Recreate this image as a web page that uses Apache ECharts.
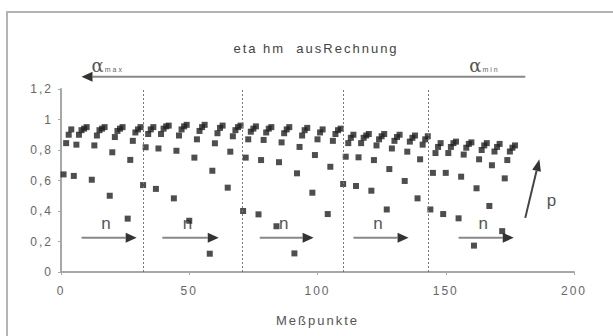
<!DOCTYPE html>
<html>
<head>
<meta charset="utf-8">
<script src="https://cdn.jsdelivr.net/npm/echarts@6/dist/echarts.min.js"></script>
<style>
  html, body { margin: 0; padding: 0; background: #fff; overflow: hidden; }
  #chart { width: 613px; height: 336px; }
  #chart text { letter-spacing: 2px; }
</style>
</head>
<body>
<div id="chart"></div>
<script>
// Axis ticks
const xTicks = [0, 50, 100, 150, 200];
const yTicks = [0, 0.2, 0.4, 0.6, 0.8, 1, 1.2];

// eta_hm per measuring point, one block per alpha setting (alpha_max -> alpha_min)
const alpha1Idx = [1, 2, 3, 4, 5, 6, 7, 8, 9, 10, 12, 13, 14, 15, 16, 17, 19, 20, 21, 22, 23, 24, 26, 27, 28, 29, 30, 31];
const alpha1Eta = [0.64, 0.845, 0.90, 0.935, 0.63, 0.835, 0.90, 0.93, 0.94, 0.95, 0.605, 0.83, 0.895, 0.93, 0.94, 0.95, 0.50, 0.785, 0.885, 0.925, 0.94, 0.95, 0.35, 0.735, 0.86, 0.915, 0.935, 0.95];

const alpha2Idx = [32, 33, 34, 35, 36, 37, 38, 39, 40, 41, 42, 44, 45, 46, 47, 48, 49, 50, 52, 53, 54, 55, 56, 58, 59, 60, 61, 62, 63, 65, 66, 67, 68, 69, 70];
const alpha2Eta = [0.57, 0.818, 0.905, 0.935, 0.95, 0.545, 0.81, 0.905, 0.94, 0.955, 0.96, 0.483, 0.795, 0.895, 0.935, 0.955, 0.965, 0.336, 0.75, 0.87, 0.925, 0.95, 0.965, 0.12, 0.664, 0.844, 0.91, 0.945, 0.96, 0.553, 0.789, 0.89, 0.93, 0.95, 0.96];

const alpha3Idx = [71, 72, 73, 74, 75, 76, 77, 78, 79, 80, 81, 82, 84, 85, 86, 87, 88, 89, 91, 92, 93, 94, 95, 96, 98, 99, 100, 101, 102, 104, 105, 106, 107, 108, 109];
const alpha3Eta = [0.40, 0.75, 0.87, 0.92, 0.94, 0.955, 0.378, 0.734, 0.866, 0.915, 0.94, 0.95, 0.30, 0.72, 0.85, 0.91, 0.935, 0.95, 0.122, 0.647, 0.82, 0.895, 0.93, 0.945, 0.52, 0.767, 0.87, 0.915, 0.935, 0.38, 0.69, 0.86, 0.905, 0.93, 0.94];

const alpha4Idx = [110, 111, 112, 113, 114, 115, 116, 117, 118, 119, 120, 121, 122, 123, 124, 125, 126, 127, 128, 129, 130, 131, 132, 134, 135, 136, 137, 138, 139, 140, 141, 142, 143];
const alpha4Eta = [0.577, 0.756, 0.845, 0.88, 0.90, 0.564, 0.752, 0.845, 0.88, 0.895, 0.905, 0.533, 0.734, 0.83, 0.87, 0.89, 0.905, 0.41, 0.675, 0.81, 0.86, 0.885, 0.90, 0.597, 0.789, 0.855, 0.88, 0.895, 0.483, 0.739, 0.835, 0.87, 0.89];

const alpha5Idx = [144, 145, 146, 147, 148, 149, 150, 151, 152, 153, 154, 155, 156, 157, 158, 159, 160, 161, 162, 163, 164, 165, 166, 167, 168, 169, 170, 171, 172, 173, 174, 175, 176, 177];
const alpha5Eta = [0.41, 0.65, 0.78, 0.82, 0.845, 0.38, 0.65, 0.78, 0.82, 0.845, 0.855, 0.352, 0.625, 0.77, 0.815, 0.84, 0.85, 0.173, 0.549, 0.739, 0.80, 0.83, 0.845, 0.433, 0.70, 0.79, 0.82, 0.84, 0.268, 0.614, 0.734, 0.79, 0.815, 0.83];

// Annotation anchors in data units
const sectionBounds = [32, 70.5, 110, 143];
const nArrowSpans = [[8, 29.5], [39.5, 61.5], [77.5, 98.5], [114, 135.5], [155, 176.5]];
const nArrowLevel = 0.225;
const alphaArrow = { from: 181, to: 8, level: 1.28 };
const pArrow = { from: [181, 0.355], to: [186.5, 0.74] };

const zip = (xs, ys) => xs.map((x, i) => [x, ys[i]]);
const groups = [
  zip(alpha1Idx, alpha1Eta), zip(alpha2Idx, alpha2Eta), zip(alpha3Idx, alpha3Eta),
  zip(alpha4Idx, alpha4Eta), zip(alpha5Idx, alpha5Eta)
];

const FONT = '"Liberation Sans", Arial, sans-serif';
const chart = echarts.init(document.getElementById('chart'), null, { renderer: 'svg' });

const yLabel = v => {
  const r = Math.round(v * 10) / 10;
  return String(r).replace('.', ',');
};

chart.setOption({
  animation: false,
  backgroundColor: '#fff',
  grid: { left: 61, right: 39, top: 89, bottom: 64 },
  xAxis: {
    type: 'value', min: xTicks[0], max: xTicks[xTicks.length - 1], interval: 50,
    name: 'Meßpunkte', nameLocation: 'middle', nameGap: 42,
    nameTextStyle: { color: '#555', fontFamily: FONT, fontSize: 13 },
    axisLine: { lineStyle: { color: '#a8a8a8', width: 2 } },
    axisTick: { show: true, length: 3, lineStyle: { color: '#a8a8a8' } },
    axisLabel: { color: '#666', fontFamily: FONT, fontSize: 12, margin: 13 },
    splitLine: { show: false }
  },
  yAxis: {
    type: 'value', min: yTicks[0], max: yTicks[yTicks.length - 1], interval: 0.2,
    axisLine: { show: true, lineStyle: { color: '#a8a8a8', width: 2 } },
    axisTick: { show: true, length: 3, lineStyle: { color: '#a8a8a8' } },
    axisLabel: { color: '#666', fontFamily: FONT, fontSize: 12, margin: 8, formatter: yLabel },
    splitLine: { show: false }
  },
  series: groups.map((g, i) => ({
    type: 'scatter',
    symbol: 'rect',
    symbolSize: 6,
    itemStyle: { color: '#222' },
    data: g,
    markLine: i === 0 ? {
      silent: true, symbol: 'none', label: { show: false },
      lineStyle: { color: '#777', type: [2, 2], width: 1 },
      data: sectionBounds.map(x => ({ xAxis: x }))
    } : undefined
  }))
});

// Arrows and labels placed through the axis scales
const px = (x, y) => chart.convertToPixel({ gridIndex: 0 }, [x, y]);

function arrow(p0, p1, lineColor, headColor, headLen, headW) {
  const dx = p1[0] - p0[0], dy = p1[1] - p0[1];
  const len = Math.hypot(dx, dy), ux = dx / len, uy = dy / len;
  const bx = p1[0] - ux * headLen, by = p1[1] - uy * headLen;
  const nx = -uy * headW / 2, ny = ux * headW / 2;
  return [
    { type: 'line', shape: { x1: p0[0], y1: p0[1], x2: bx, y2: by }, style: { stroke: lineColor, lineWidth: 2 } },
    { type: 'polygon', shape: { points: [[p1[0], p1[1]], [bx + nx, by + ny], [bx - nx, by - ny]] }, style: { fill: headColor } }
  ];
}

const graphics = [
  // outer frame: top and left edges of the surrounding box
  { type: 'polyline', shape: { points: [[7, 340], [7, 12], [613, 12]] }, style: { fill: 'none', stroke: '#b4b4b4', lineWidth: 2 } },
  { type: 'text', x: 316, y: 48, style: { text: 'eta hm  ausRechnung', font: '13px ' + FONT, fill: '#444', textAlign: 'center', textVerticalAlign: 'middle' } }
];

// alpha arrow
const aFrom = px(alphaArrow.from, alphaArrow.level), aTo = px(alphaArrow.to, alphaArrow.level);
graphics.push(...arrow(aFrom, aTo, '#888', '#333', 11, 10));
const alphaRich = { a: { fontFamily: '"DejaVu Serif", serif', fontSize: 18, fill: '#555' }, s: { fontFamily: FONT, fontSize: 7, fill: '#666', padding: [8, 0, 0, 1] } };
graphics.push({ type: 'text', x: aTo[0] + 10, y: aTo[1] - 11, style: { text: '{a|α}{s|max}', textVerticalAlign: 'middle', rich: alphaRich } });
graphics.push({ type: 'text', x: aFrom[0] - 56, y: aFrom[1] - 11, style: { text: '{a|α}{s|min}', textVerticalAlign: 'middle', rich: alphaRich } });

// n arrows
nArrowSpans.forEach(([a, b]) => {
  const p0 = px(a, nArrowLevel), p1 = px(b, nArrowLevel);
  graphics.push(...arrow(p0, p1, '#888', '#333', 11, 10));
  graphics.push({ type: 'text', x: (p0[0] + p1[0]) / 2 - 2, y: p0[1] - 14, style: {
    text: 'n', font: '17px ' + FONT, fill: '#555', textAlign: 'center', textVerticalAlign: 'middle'
  } });
});

// p arrow
const q0 = px(pArrow.from[0], pArrow.from[1]), q1 = px(pArrow.to[0], pArrow.to[1]);
graphics.push(...arrow(q0, q1, '#444', '#333', 12, 9));
graphics.push({ type: 'text', x: q1[0] + 13, y: (q0[1] + q1[1]) / 2 + 12, style: {
  text: 'p', font: '17px ' + FONT, fill: '#555', textAlign: 'center', textVerticalAlign: 'middle'
} });

chart.setOption({ graphic: graphics.map(g => Object.assign({ silent: true }, g)) });
</script>
</body>
</html>
